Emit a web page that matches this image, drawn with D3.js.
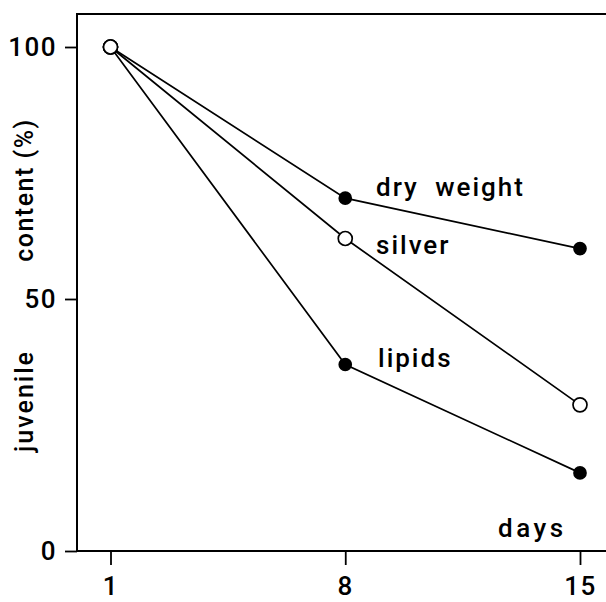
<!DOCTYPE html>
<html>
<head>
<meta charset="utf-8">
<script src="https://cdn.jsdelivr.net/npm/d3@7"></script>
<style>
  body { margin: 0; background: #fff; }
  svg { display: block; }
  text { font-family: Roboto, "Liberation Sans", Arial, sans-serif; font-weight: 500; fill: #000; }
</style>
</head>
<body>
<div id="chart"></div>
<script>
// data
var days = [1, 8, 15];
var dryWeight = [100, 70, 60];
var silver = [100, 62, 29];
var lipids = [100, 37, 15.5];
var yTicks = [0, 50, 100];

var seriesNames = ["dry weight", "silver", "lipids"];
var seriesValues = [dryWeight, silver, lipids];
var seriesOpen = [false, true, false];

var svgWidth = 606;
var svgHeight = 602;

var svg = d3.select("#chart")
    .append("svg")
    .attr("width", svgWidth)
    .attr("height", svgHeight);

var x = d3.scaleLinear().domain([1, 15]).range([110.5, 580]);
var y = d3.scaleLinear().domain([0, 100]).range([551, 47]);

var frameLeft = 77, frameTop = 14, frameBottom = y(0);

// frame: left axis, top line, bottom axis (runs off the right edge)
svg.append("path")
    .attr("d", "M606," + frameTop + "H" + frameLeft + "V" + frameBottom + "H606")
    .attr("fill", "none")
    .attr("stroke", "#000")
    .attr("stroke-width", 2);

// y axis
var yAxis = svg.append("g")
    .attr("transform", "translate(" + frameLeft + ",0)")
    .call(d3.axisLeft(y).tickValues(yTicks).tickSize(12).tickPadding(8));
yAxis.select(".domain").remove();

// x axis
var xAxis = svg.append("g")
    .attr("transform", "translate(0," + frameBottom + ")")
    .call(d3.axisBottom(x).tickValues(days).tickSize(14).tickPadding(12));
xAxis.select(".domain").remove();

svg.selectAll(".tick line").attr("stroke", "#000").attr("stroke-width", 1.8);
svg.selectAll(".tick text")
    .attr("fill", "#000")
    .style("font-size", "26px")
    .style("letter-spacing", "1.5px");

// lines
var line = d3.line()
    .x(function(d, i) { return x(days[i]); })
    .y(function(d) { return y(d); });

seriesValues.forEach(function(vals) {
    svg.append("path")
        .datum(vals)
        .attr("d", line)
        .attr("fill", "none")
        .attr("stroke", "#000")
        .attr("stroke-width", 1.7);
});

// markers (open ones on top, shared start point open)
[0, 2, 1].forEach(function(s) {
    svg.append("g").selectAll("circle")
        .data(seriesValues[s])
        .enter()
        .append("circle")
        .attr("cx", function(d, i) { return x(days[i]); })
        .attr("cy", function(d) { return y(d); })
        .attr("r", function(d, i) { return (seriesOpen[s] || i == 0) ? 7 : 6; })
        .attr("fill", function(d, i) { return (seriesOpen[s] || i == 0) ? "#fff" : "#000"; })
        .attr("stroke", "#000")
        .attr("stroke-width", 1.7);
});

// series labels
var labelPos = [[376, 196], [376, 254], [378, 367]];
seriesNames.forEach(function(name, i) {
    svg.append("text")
        .attr("x", labelPos[i][0])
        .attr("y", labelPos[i][1])
        .style("font-size", "26px")
        .style("letter-spacing", "2px")
        .style("word-spacing", "8px")
        .text(name);
});

svg.append("text")
    .attr("x", 498)
    .attr("y", 537)
    .style("font-size", "26px")
    .style("letter-spacing", "3.5px")
    .text("days");

// y axis title, two pieces
svg.append("text")
    .attr("transform", "translate(33,401) rotate(-90)")
    .attr("text-anchor", "middle")
    .style("font-size", "25px")
    .style("letter-spacing", "2px")
    .text("juvenile");

svg.append("text")
    .attr("transform", "translate(33,190) rotate(-90)")
    .attr("text-anchor", "middle")
    .style("font-size", "25px")
    .style("letter-spacing", "1.5px")
    .text("content (%)");
</script>
</body>
</html>
